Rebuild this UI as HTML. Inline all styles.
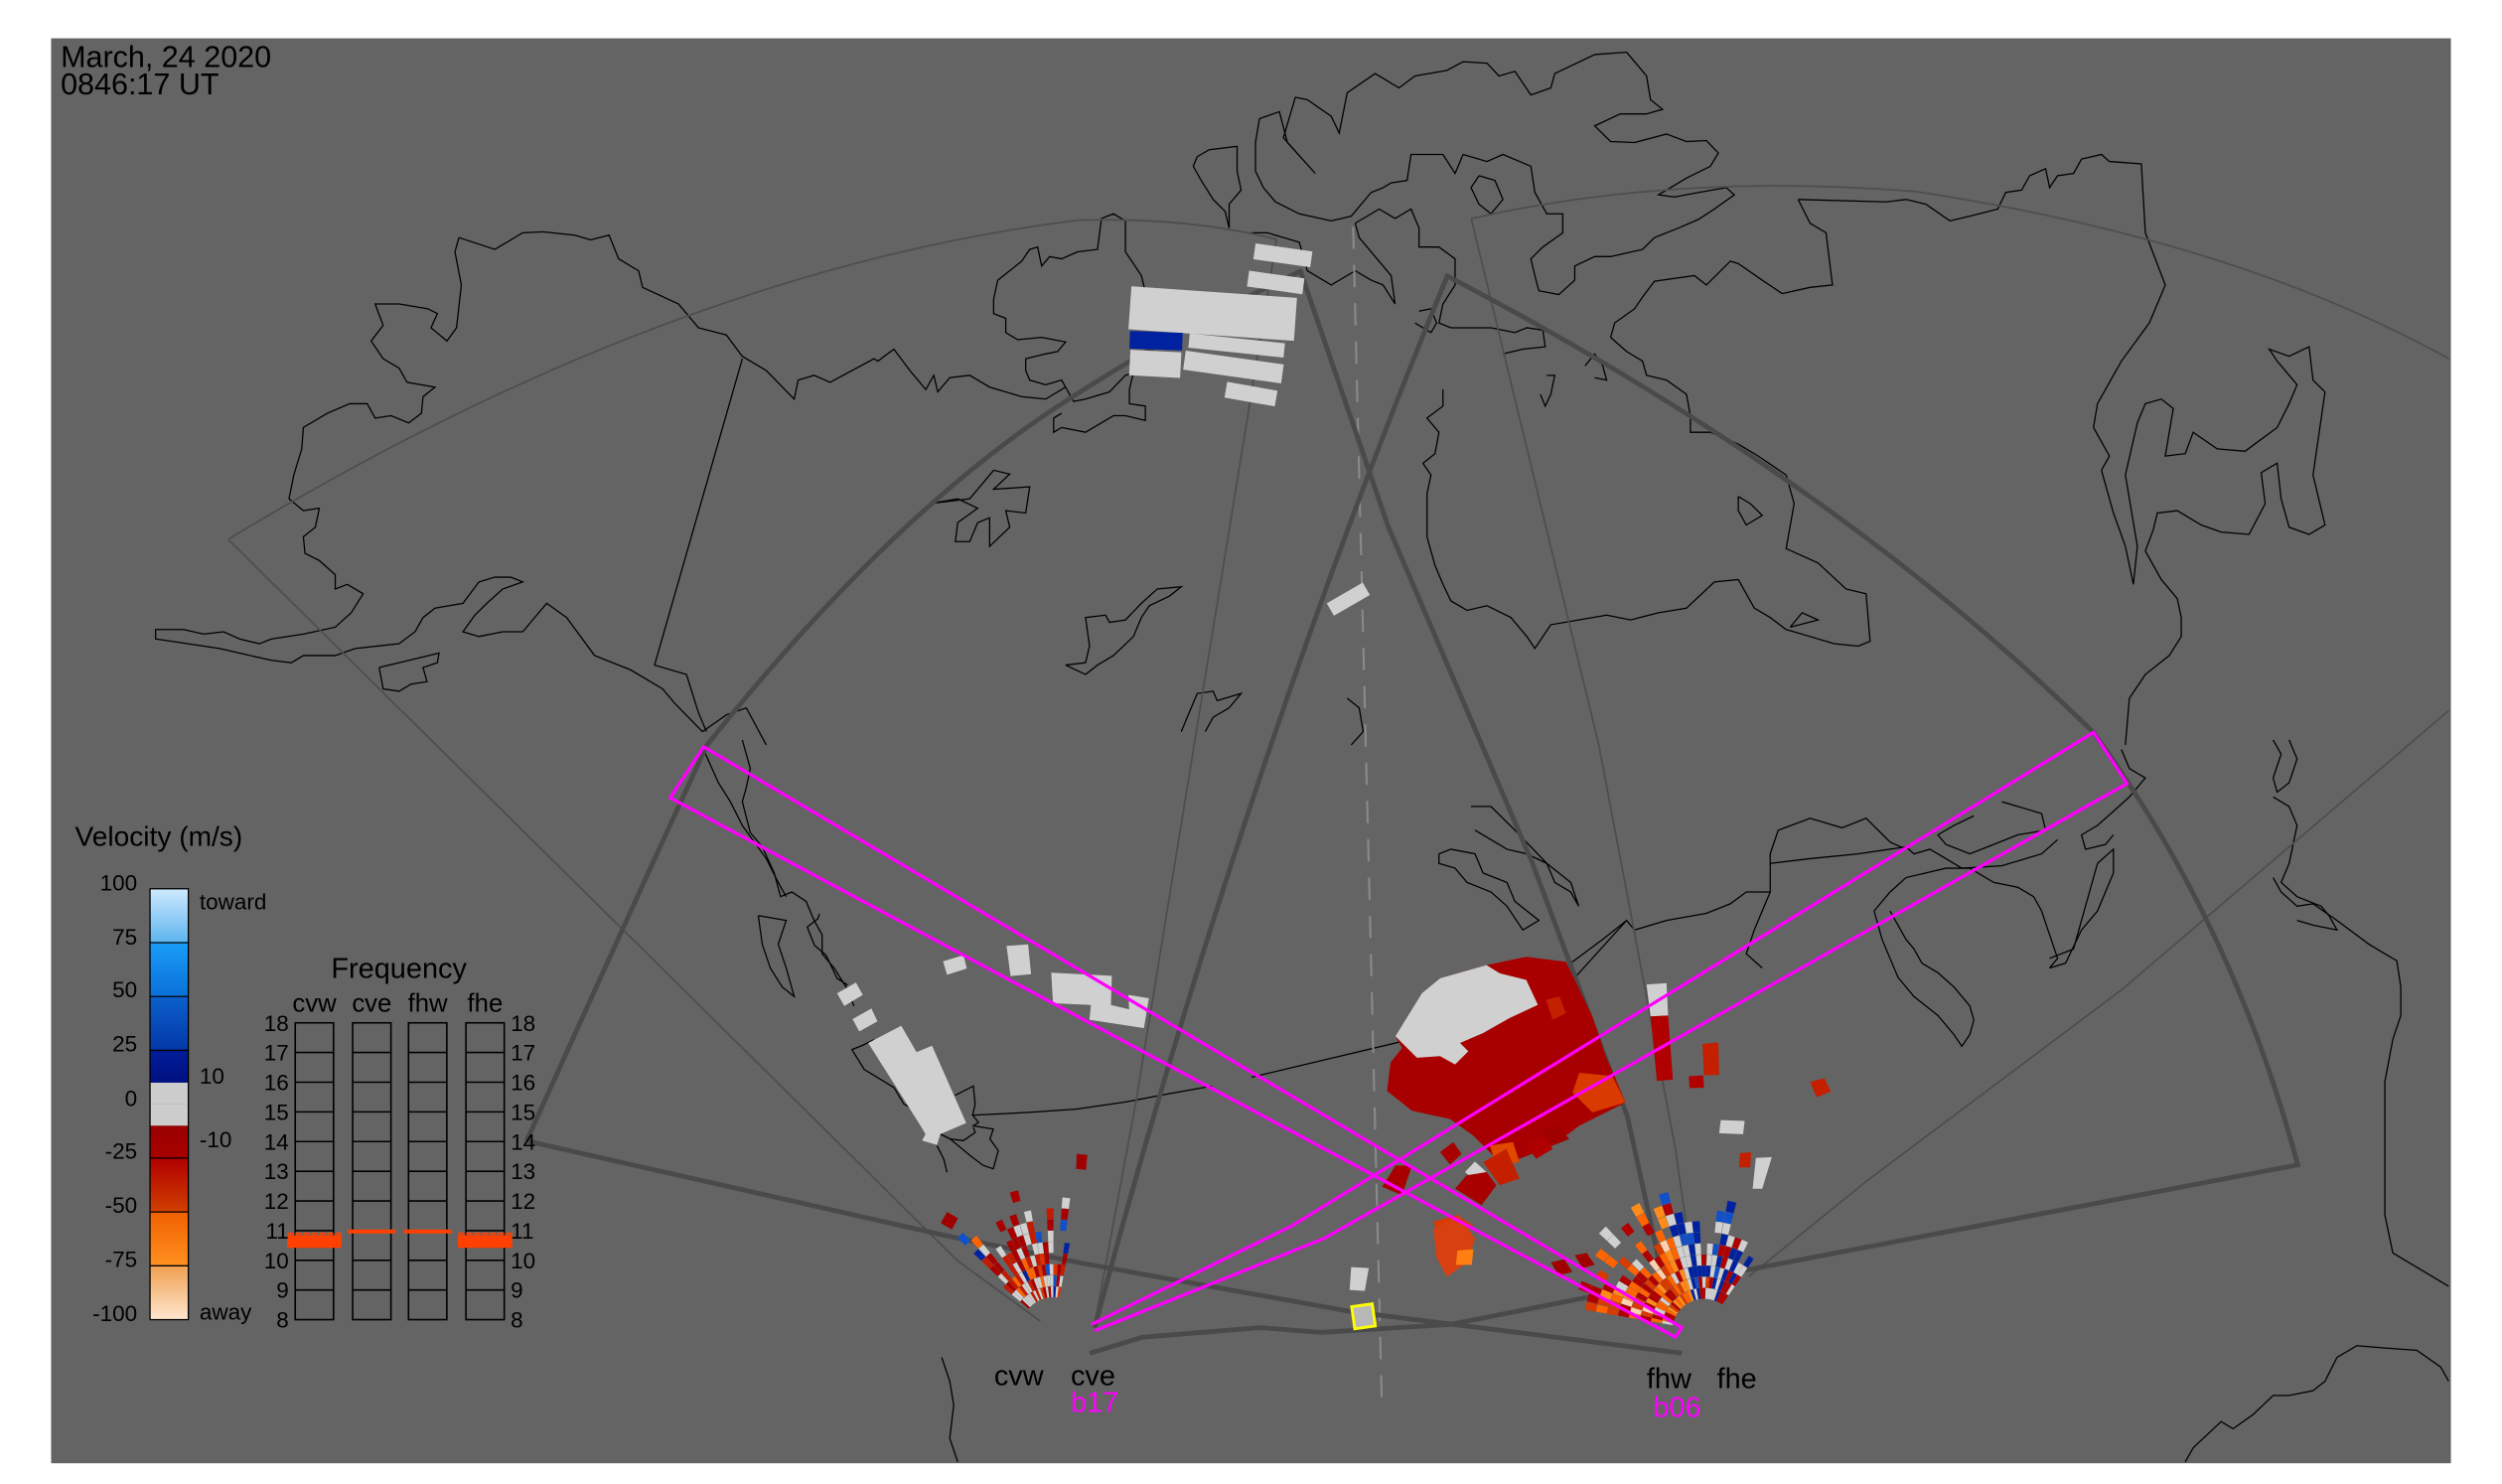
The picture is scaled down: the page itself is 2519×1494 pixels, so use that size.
<!DOCTYPE html>
<html><head><meta charset="utf-8"><style>
html,body{margin:0;padding:0;background:#fff;}
svg{display:block;}
text{font-family:"Liberation Sans",sans-serif;}
</style></head><body>
<svg id="s" width="2519" height="1494" viewBox="0 0 1568 930" xmlns="http://www.w3.org/2000/svg">
<rect x="0" y="0" width="1568" height="930" fill="#fff"/>
<rect x="32" y="24" width="1504" height="893" fill="#646464"/>
<g id="coast" fill="none" stroke="#000" stroke-width="0.8"></g>
<g id="thin" fill="none" stroke="#4e4e4e" stroke-width="1.1">
<path d="M143,338 Q420,170 675,138 Q745,136 800,150"/>
<path d="M143,338 L600,790 L652,828"/>
<path d="M800,150 L712,690 L686,830"/>
<path d="M922,137 Q1050,108 1200,120 Q1400,150 1535,225"/>
<path d="M922,137 L1002,467 L1050,720 L1060,790"/>
<path d="M1535,445 L1330,620 L1170,740 L1096,800"/>
</g>
<line x1="848" y1="142" x2="866" y2="880" stroke="#8a8a8a" stroke-width="1.3" stroke-dasharray="14,10"/>
<g id="thick" fill="none" stroke="#4a4a4a" stroke-width="3">
<path d="M686,832 Q780,480 907,173 Q1150,300 1312,459 Q1400,580 1440,730 L1094,796"/>
<path d="M330,715 Q400,560 443,467 Q560,320 670,250 Q740,205 815,170 L870,330 L960,540 L1020,700 L1048,828"/>
<path d="M330,715 L591,774 L680,792 L847,822 L903,829 L1054,848"/>
<path d="M683,848 L716,838 L790,832 L828,835 L909,830 L1000,812"/>
</g>
<g id="data"></g>
<rect x="848" y="818" width="13" height="14" fill="#b8b8b8" stroke="#ffff00" stroke-width="1.8" transform="rotate(-8 854 825)"/>
<g fill="none" stroke="#ff00ff" stroke-width="2">
<path d="M441,468 L1054,832 L1050,838 L420,500 Z"/>
<path d="M684,830 L810,768 L1312,459 L1333,491 L830,776 L686,834"/>
</g>
<text x="38" y="42" font-size="19" fill="#000">March, 24 2020</text>
<text x="38" y="59" font-size="19" fill="#000">0846:17 UT</text>
<text x="47" y="530" font-size="17.5" fill="#000">Velocity (m/s)</text>
<g id="cbar"></g>
<g font-size="14" fill="#000" text-anchor="end">
<text x="86" y="558">100</text><text x="86" y="592">75</text><text x="86" y="625">50</text><text x="86" y="659">25</text><text x="86" y="693">0</text><text x="86" y="726">-25</text><text x="86" y="760">-50</text><text x="86" y="794">-75</text><text x="86" y="828">-100</text>
</g>
<g font-size="14" fill="#000">
<text x="125" y="570">toward</text><text x="125" y="679">10</text><text x="125" y="719">-10</text><text x="125" y="827">away</text>
</g>
<text x="250" y="613" font-size="18" fill="#000" text-anchor="middle">Frequency</text>
<g font-size="16" fill="#000" text-anchor="middle">
<text x="197" y="634">cvw</text><text x="233" y="634">cve</text><text x="268" y="634">fhw</text><text x="304" y="634">fhe</text>
</g>
<g id="freq"></g>
<g font-size="18" fill="#000"><text x="623" y="868">cvw</text><text x="671" y="868">cve</text><text x="1032" y="870">fhw</text><text x="1076" y="870">fhe</text></g>
<g font-size="18" fill="#ff00ff"><text x="671" y="885">b17</text><text x="1036" y="888">b06</text></g>
</svg>
<script>
var NS="http://www.w3.org/2000/svg";
function mk(t,a,p){var e=document.createElementNS(NS,t);for(var k in a)e.setAttribute(k,a[k]);p.appendChild(e);return e;}
var Z={5:[0,0,0.5002,0.2977],6:[784.3,0,0.5002,0.2977],7:[0,463.7,0.5002,0.2977],8:[784.3,463.7,0.5002,0.2977],
10:[840.3,585.1,0.2075,0.2075],11:[498,572.7,0.2075,0.2075],9:[964.8,715.8,0.2075,0.2075],4:[591.3,715.8,0.2075,0.2075]};
function cv(z,a){var m=Z[z],o=[];for(var i=0;i<a.length;i+=2)o.push((m[0]+a[i]*m[2]).toFixed(1)+","+(m[1]+a[i+1]*m[3]).toFixed(1));return o.join(" ");}
var coast=document.getElementById("coast");
function cl(z,a){mk("polyline",{points:cv(z,a)},coast);}
cl(5,[575,500,620,525,655,490,680,488,720,495,740,505,763,495,775,545,800,570,805,605,850,640,875,690,910,705,930,750,960,780,995,840,1000,800,1020,790,1040,805,1095,755,1100,760,1120,735,1140,780,1160,820,1170,790,1175,825,1190,795,1215,790,1240,815,1280,835,1310,840,1335,815]);
cl(5,[575,500,570,530,578,600,572,690,560,718,540,690,548,660,536,650,500,640,470,640,480,685,465,718,480,755,500,775,510,805,545,815,530,835,528,870,512,890,490,875,470,880,460,850,438,850,410,870,380,900,378,945,368,1000,362,1050,380,1075,400,1070,395,1110,380,1130,382,1165,400,1180,420,1210,420,1240,435,1230,455,1250,440,1290,420,1320,380,1335,340,1345,325,1355,300,1345,280,1330,255,1335,230,1325,195,1325,195,1345,235,1355,275,1365,300,1375,340,1390,365,1395,380,1380,420,1380,445,1365,500,1355,520,1330,530,1300,545,1280,580,1270,600,1225,620,1215,640,1215,655,1225,630,1240,610,1270,595,1295,580,1330,600,1340,630,1330,655,1330,675,1290,685,1270,710,1300,745,1380,790,1410,830,1450,845,1480,880,1540,910,1505,935,1490,960,1568]);
cl(5,[930,755,820,1400,860,1420,875,1500,885,1540]);
cl(5,[475,1405,550,1375,548,1395,530,1405,535,1435,515,1440,500,1455,480,1450,475,1405]);
cl(5,[1165,1060,1215,1050,1245,990,1265,998,1245,1030,1290,1025,1285,1080,1260,1075,1265,1110,1240,1150,1240,1090,1225,1100,1215,1140,1197,1140,1200,1100,1225,1070,1200,1050,1165,1060]);
cl(5,[1335,1400,1360,1395,1365,1360,1360,1300,1385,1295,1390,1310,1410,1305,1430,1270,1450,1240,1480,1235,1465,1255,1440,1275,1430,1300,1420,1340,1395,1380,1375,1400,1360,1420,1335,1400]);
cl(5,[1500,330,1515,315,1550,308,1550,360,1555,400,1540,430,1540,480,1535,445,1520,420,1505,380,1495,350,1500,330]);
cl(5,[1330,870,1320,880,1320,910,1330,900,1360,910,1380,890,1395,875,1410,875,1435,885,1435,855,1415,850,1415,820,1420,785,1410,790,1390,825,1360,840,1345,845,1330,800,1310,810,1290,800,1285,780,1285,755,1310,745,1325,740,1335,720,1305,710,1275,715,1260,700,1260,670,1245,660,1245,630,1250,590,1280,550,1290,525,1300,520,1305,560,1315,540,1330,545,1350,530,1375,525,1380,460,1395,450,1410,465,1410,530,1430,580,1435,615,1450,650,1568,650]);
cl(5,[1480,1540,1500,1460,1520,1455,1525,1475,1555,1460,1540,1490,1520,1510,1510,1540]);
cl(6,[5,300,10,250,35,235,45,300,80,365,40,290,55,205,70,210,100,245,110,280,120,195,155,155,185,185,205,160,245,148,265,130,295,133,310,160,330,150,350,200,375,185,380,155,430,115,470,110,495,160,500,210,515,230,495,240,462,240,430,265,450,298,480,300,520,282,545,298,570,296,585,322,575,350,545,375,510,410,530,415,560,405,595,395,605,410,580,440,560,462,535,480,505,500,490,525,450,540,430,540,405,560,405,590,385,620,360,612,355,580,350,545,365,520,390,490,390,450,370,450,355,405,350,350,315,325,295,340,265,325,255,365,240,325,200,325,195,380,175,385,165,395,150,405,125,455,100,465,60,450,30,425,15,395,5,360,5,300]);
cl(6,[285,370,305,380,315,420,300,450,285,430,275,395,285,370]);
cl(6,[130,470,160,440,180,460,200,440,210,480,210,520,235,520,255,545,255,600,240,640,235,680,250,690,265,690,300,690,330,700,345,690,365,695,368,730,340,735,315,745]);
cl(6,[130,470,135,500,155,540,175,580,180,640,165,600,150,590,130,570,100,600,70,570,60,510,20,490,0,490]);
cl(6,[210,655,225,650,232,680,225,700,205,680]);
cl(6,[418,770,430,745,440,770,445,800,430,795]);
cl(6,[370,790,380,790,375,830,368,855,362,830]);
cl(6,[685,420,700,470,720,490,728,600,700,605,665,618,640,590,610,555,600,550,570,600,555,580,505,592,490,625,480,650,455,680,450,710,470,740,490,760,495,790,520,800,545,830,550,875,550,910,575,910,610,935,635,960,670,1000,680,1060,670,1155,710,1185,745,1240,770,1250,775,1350,760,1360,730,1355,700,1340,670,1325,650,1300,630,1280,610,1220,580,1225,545,1280,510,1290,475,1305,445,1295,410,1305,375,1315,355,1365,345,1340,325,1300,295,1275,270,1285,250,1265,240,1230,230,1190,220,1130,220,1040,225,1000,215,975,230,955,235,910,220,880,240,855,240,820]);
cl(6,[685,420,795,425,820,420,845,430,875,465,900,455,935,440,945,405,965,400,975,370,995,355,1000,395,1010,370,1030,365,1040,335,1065,325,1075,340,1115,345,1120,490,1145,600,1125,680,1090,760,1060,850,1055,900,1075,960,1065,990,1080,1080,1095,1150,1105,1230,1110,1150,1095,1000,1110,890,1120,850,1140,840,1155,860,1145,960,1170,955,1180,910,1210,945,1245,950,1285,900,1300,850,1310,810,1300,790,1285,760,1275,735,1300,750,1325,730,1330,800,1345,825,1330,1000,1345,1105,1325,1125,1300,1110,1290,1050,1285,975,1265,995,1270,1060,1250,1125,1215,1120,1190,1105,1160,1075,1135,1080,1130,1115,1120,1160,1140,1220,1160,1260,1165,1300,1165,1340,1150,1380,1120,1420,1100,1470,1095,1568]);
cl(6,[610,1045,625,1060,640,1085,620,1105,610,1075,610,1045]);
cl(6,[675,1320,690,1290,710,1305,675,1320]);
cl(6,[120,1470,135,1490,140,1540,125,1568]);
cl(8,[0,710,100,670,200,630,300,580,400,510,470,380,480,400,520,380,570,365,600,345,620,320,650,320,650,240,660,190,700,165,740,185,770,165,800,215,820,230]);
cl(8,[470,380,440,420,400,470]);
cl(8,[650,260,700,250,760,240,820,225,830,240,850,230,870,250,890,270,940,265,990,240,1010,210]);
cl(8,[650,320,630,400,620,450,640,480]);
cl(8,[780,360,800,320,820,290,870,270,900,270,930,300,960,310,980,330,990,360,1000,410,1010,460,1000,480]);
cl(8,[780,360,790,420,800,460,810,500,830,540,860,580,880,620,890,645,900,620,905,590,900,560,880,520,860,490,840,470,830,440,820,420,800,360]);
cl(8,[1000,480,1020,470,1040,400,1060,360,1080,280,1080,230,1060,260,1050,320,1040,380,1030,440,1000,460]);
cl(8,[940,130,990,155,995,190,960,200,930,220,900,240,870,220,860,200,880,180,905,160]);
cl(8,[1090,20,1100,60,1120,80,1100,120,1080,150,1060,180,1040,200,1045,230,1070,220,1080,200]);
cl(8,[275,140,300,140,330,190,370,260,400,300,410,350,400,320,380,300,370,260,345,240,320,230,300,210,280,190]);
cl(8,[235,240,250,230,280,240,290,280,320,300,330,340,360,380,340,400,320,350,300,320,270,300,255,270,235,260,235,240]);
cl(8,[1280,0,1290,30,1280,80,1285,110,1300,90,1310,40,1300,0]);
cl(8,[1280,120,1300,140,1310,180,1300,260,1290,300,1310,330,1340,350,1350,370,1360,400,1330,390,1310,380]);
cl(8,[1280,290,1290,320,1310,350,1330,345,1360,380,1400,430,1420,450,1435,465,1440,520,1440,580,1430,630,1420,720,1420,850,1420,1000,1430,1080,1500,1150]);
cl(8,[1170,1520,1180,1490,1215,1435,1230,1450,1255,1420,1280,1380,1300,1380,1330,1370,1345,1350,1360,1300,1385,1275,1420,1280,1460,1285,1490,1320,1500,1350]);
cl(7,[930,0,940,60,935,100,930,130,940,195,955,225,970,280,978,330,992,320,1010,340,1020,380,1030,410,1030,450,1045,480,1060,520,1070,560]);
cl(7,[880,15,900,90,915,130,930,180,960,250,975,300,985,330]);
cl(7,[950,370,985,380,975,430,985,480,995,540,980,520,965,480,955,430,950,370]);
cl(11,[75,0,70,15,38,40,60,95,95,125,128,195,160,215]);
cl(11,[240,380,205,397,173,410,210,470,300,525,330,575,385,600]);
cl(11,[535,608,700,600,850,590,1000,568,1120,545,1260,520]);
cl(11,[485,548,540,520,545,575,538,608,555,630,540,640,600,650,590,680,615,715,600,770,570,760,530,730,470,680,440,665]);
cl(11,[440,665,470,680,510,685,545,660,540,645]);
cl(11,[430,700,450,740,460,780]);
cl(7,[1180,1300,1190,1350,1195,1400,1190,1470,1200,1520]);
var D=document.getElementById("data");
function pg(z,a,f){mk("polygon",{points:cv(z,a),fill:f},D);}
function rc(x,y,w,h,f,r){var e=mk("rect",{x:x,y:y,width:w,height:h,fill:f},D);if(r)e.setAttribute("transform","rotate("+r+" "+(x+w/2)+" "+(y+h/2)+")");}
var G="#d0d0d0";
rc(786,155,36,10,G,8);rc(782,172,35,10,G,8);
rc(708,183,104,27,G,4);rc(708,208,33,11,"#0022a0",2);rc(745,212,60,9,G,6);
rc(708,220,32,16,G,3);rc(742,224,62,12,G,8);rc(768,242,32,10,G,10);
rc(832,371,26,9,G,-30);
pg(11,[128,240,185,207,206,245,150,278],G);
pg(11,[175,318,232,286,250,325,195,355],G);
pg(11,[222,390,322,338,368,418,415,398,518,632,440,665,430,698,385,685,395,665,380,640],G);
pg(11,[448,143,510,125,520,165,460,184],G);
pg(11,[640,97,705,92,714,182,652,188],G);
pg(11,[775,178,958,187,955,275,1010,288,1008,245,1070,255,1055,345,890,320,895,275,780,270],G);
pg(11,[852,725,884,728,880,773,850,770],"#a00000");
rc(591,761,8,8,"#a00000",30);
pg(10,[150,390,185,345,165,310,245,180,300,135,440,95,560,70,680,85,760,250,800,370,860,510,720,580,640,640,540,680,470,680,400,610,330,560,215,535,140,475],"#a80000");
pg(10,[620,200,660,190,680,240,640,260],"#c42000");
pg(10,[720,420,820,430,860,510,760,540,700,480],"#d83a00");
pg(10,[450,640,520,630,540,690,470,700],"#e04a00");
pg(10,[165,310,245,180,300,135,440,95,480,120,560,140,595,215,510,255,430,300,360,330,385,355,345,395,300,370,230,375,200,345],G);
pg(10,[300,660,340,630,365,665,330,698],"#a80000");
pg(10,[375,720,405,688,440,720,410,750],G);
pg(10,[345,770,380,730,440,720,470,760,425,820],"#a80000");
pg(10,[430,690,500,650,540,740,480,760],"#c42000");
pg(10,[125,765,165,700,215,700,185,790],"#a80000");
pg(10,[280,870,350,850,400,880,370,900,290,900],"#d83a00");
pg(10,[560,640,610,610,640,650,590,680],"#b00000");
pg(10,[600,600,650,575,690,620,640,640],"#a00000");
pg(8,[495,515,520,512,522,580,500,582],G);
pg(8,[500,582,522,580,528,715,508,718],"#b00000");
pg(8,[565,640,585,637,586,705,567,706],"#c42000");
pg(8,[548,708,566,706,567,732,549,733],"#b00000");
pg(8,[700,720,718,712,726,740,708,752],"#c42000");
pg(8,[588,800,618,802,616,830,586,828],G);
pg(8,[612,870,626,868,625,900,611,900],"#c42000");
pg(8,[632,880,652,878,640,945,628,945],G);
pg(8,[228,1030,260,1000,280,1050,270,1100,245,1130,232,1090],"#d84010");
pg(8,[258,1075,278,1072,276,1105,256,1105],"#ff8010");
pg(8,[125,1110,147,1112,142,1160,123,1158],G);
pg(8,[375,1100,392,1093,402,1120,385,1127],"#a00000");
pg(8,[405,1085,420,1080,430,1105,415,1112],"#a00000");
var seed=7;function rnd(){seed=(seed*16807)%2147483647;return seed/2147483647;}
function wedge(cx,cy,r1,r2,a1,a2,f){var p=Math.PI/180;function pt(r,a){return (cx+r*Math.cos(a*p)).toFixed(1)+","+(cy+r*Math.sin(a*p)).toFixed(1);}
mk("path",{d:"M"+pt(r1,a1)+"L"+pt(r2,a1)+"A"+r2+","+r2+" 0 0 1 "+pt(r2,a2)+"L"+pt(r1,a2)+"A"+r1+","+r1+" 0 0 0 "+pt(r1,a1)+"Z",fill:f},D);}
function pick(arr){var t=rnd(),s=0;for(var i=0;i<arr.length;i+=2){s+=arr[i+1];if(t<s)return arr[i];}return arr[arr.length-2];}
var c1=[660,833];
for(var b=0;b<17;b++){var a1=-140+b*3.6,a2=a1+3.4;var maxr=40+rnd()*50;
 for(var r=20;r<maxr;r+=7){if(rnd()<0.15&&r>40)continue;
 var col=pick(["#a80000",0.32,"#c41a00",0.15,G,0.3,"#0022a0",0.08,"#ff6400",0.06,"#1050c8",0.04,"#e03000",0.05]);
 wedge(c1[0],c1[1],r,r+6.8,a1,a2,col);}}
var c2=[1068,834];
for(var b=0;b<28;b++){var a1=-170+b*4.1,a2=a1+3.9;var left=a1<-110;var maxr=left?(55+rnd()*35):(40+rnd()*50);
 for(var r=20;r<maxr;r+=7){if(rnd()<0.13&&r>40)continue;
 var col=left?pick(["#ff6400",0.3,"#d83a00",0.25,"#b00000",0.25,"#ff8c1a",0.1,G,0.06,"#ffd0b0",0.04]):
  pick(["#0022a0",0.3,"#1050c8",0.15,G,0.3,"#b00000",0.2,"#d83a00",0.05]);
 wedge(c2[0],c2[1],r,r+6.8,a1,a2,col);}}
var cb=document.getElementById("cbar");
var defs=mk("defs",{},cb);
function grad(id,c1,c2){var g=mk("linearGradient",{id:id,x1:0,y1:0,x2:0,y2:1},defs);mk("stop",{offset:0,"stop-color":c1},g);mk("stop",{offset:1,"stop-color":c2},g);}
grad("g1","#cfeaff","#5cb4ee");grad("g2","#1a9cf8","#0a70d8");grad("g3","#0a60cc","#0438a8");grad("g4","#001e9a","#001080");
grad("g5","#9a0000","#a80000");grad("g6","#b00000","#d04000");grad("g7","#f06000","#ff9020");grad("g8","#f0a050","#ffe6d0");
function Y(v){return 557+(100-v)*1.35;}
var seg=[[100,75,"url(#g1)"],[75,50,"url(#g2)"],[50,25,"url(#g3)"],[25,10,"url(#g4)"],[10,0,"#cccccc"],[0,-10,"#cccccc"],[-10,-25,"url(#g5)"],[-25,-50,"url(#g6)"],[-50,-75,"url(#g7)"],[-75,-100,"url(#g8)"]];
seg.forEach(function(s){mk("rect",{x:94,y:Y(s[0]),width:24,height:Y(s[1])-Y(s[0]),fill:s[2]},cb);});
[75,50,25,-25,-50,-75].forEach(function(v){mk("line",{x1:94,x2:118,y1:Y(v),y2:Y(v),stroke:"#000","stroke-width":0.8},cb);});
mk("rect",{x:94,y:557,width:24,height:270,fill:"none",stroke:"#000","stroke-width":0.8},cb);
var fq=document.getElementById("freq");
var cols=[185,221,256,292];
cols.forEach(function(x){mk("rect",{x:x,y:641,width:24,height:186,fill:"none",stroke:"#000","stroke-width":1},fq);
 for(var i=1;i<10;i++)mk("line",{x1:x,x2:x+24,y1:641+i*18.6,y2:641+i*18.6,stroke:"#000","stroke-width":1},fq);});
[[185,1],[292,1]].forEach(function(c){mk("rect",{x:c[0]-5,y:774,width:34,height:8,fill:"#ff4000"},fq);mk("line",{x1:c[0]-5,x2:c[0]+29,y1:773,y2:773,stroke:"#ff4000","stroke-width":1.2,"stroke-dasharray":"4,1"},fq);});
[221,256].forEach(function(x){mk("rect",{x:x-3,y:770.5,width:30,height:2.5,fill:"#ff4000"},fq);});
for(var i=0;i<11;i++){var y=641+i*18.6+5;var v=18-i;
 mk("text",{x:181,y:y,"font-size":14,"text-anchor":"end",fill:"#000"},fq).textContent=v;
 mk("text",{x:320,y:y,"font-size":14,fill:"#000"},fq).textContent=v;}
</script>
</body></html>
